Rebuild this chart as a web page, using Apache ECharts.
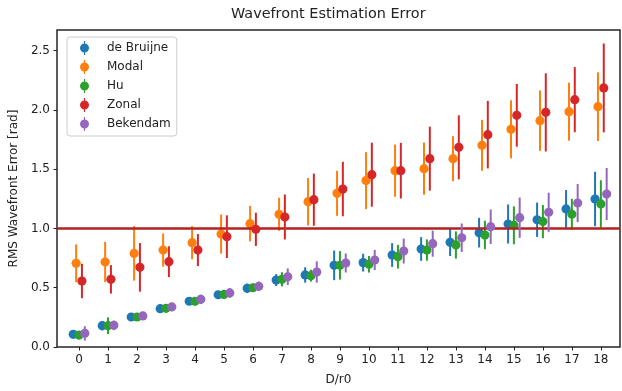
<!DOCTYPE html>
<html>
<head>
<meta charset="utf-8">
<script src="https://cdn.jsdelivr.net/npm/echarts@6/dist/echarts.min.js"></script>
<style>
  html, body { margin: 0; padding: 0; background: #fff; }
  #chart { width: 622px; height: 391px; }
</style>
</head>
<body>
<div id="chart"></div>
<script>
// D/r0 values on the x axis
const dValues = [0, 1, 2, 3, 4, 5, 6, 7, 8, 9, 10, 11, 12, 13, 14, 15, 16, 17, 18];
const threshold = 1.0;

// RMS error means and error bar half-widths [rad]
const deBruijne    = [0.107, 0.18, 0.253, 0.323, 0.386, 0.441, 0.495, 0.565, 0.608, 0.689, 0.712, 0.776, 0.827, 0.883, 0.965, 1.038, 1.074, 1.165, 1.249];
const deBruijneErr = [0.02, 0.04, 0.02, 0.03, 0.03, 0.03, 0.04, 0.05, 0.065, 0.125, 0.075, 0.1, 0.1, 0.115, 0.125, 0.165, 0.145, 0.16, 0.23];
const modal        = [0.706, 0.717, 0.79, 0.818, 0.88, 0.953, 1.041, 1.12, 1.226, 1.297, 1.404, 1.488, 1.505, 1.589, 1.702, 1.837, 1.91, 1.986, 2.028];
const modalErr     = [0.16, 0.17, 0.23, 0.14, 0.14, 0.165, 0.15, 0.14, 0.2, 0.19, 0.24, 0.22, 0.22, 0.19, 0.215, 0.245, 0.255, 0.245, 0.29];
const hu           = [0.101, 0.18, 0.253, 0.326, 0.386, 0.444, 0.5, 0.571, 0.602, 0.689, 0.698, 0.762, 0.818, 0.861, 0.945, 1.027, 1.058, 1.12, 1.207];
const huErr        = [0.02, 0.07, 0.015, 0.03, 0.035, 0.03, 0.035, 0.06, 0.05, 0.12, 0.07, 0.1, 0.09, 0.115, 0.12, 0.16, 0.14, 0.13, 0.2];
const zonal        = [0.557, 0.571, 0.672, 0.72, 0.818, 0.931, 0.993, 1.097, 1.243, 1.333, 1.454, 1.488, 1.589, 1.685, 1.792, 1.955, 1.98, 2.087, 2.186];
const zonalErr     = [0.145, 0.12, 0.205, 0.13, 0.135, 0.18, 0.14, 0.19, 0.22, 0.23, 0.27, 0.235, 0.27, 0.27, 0.285, 0.265, 0.33, 0.275, 0.375];
const bekendam     = [0.115, 0.183, 0.262, 0.338, 0.402, 0.456, 0.512, 0.593, 0.633, 0.709, 0.734, 0.81, 0.872, 0.922, 1.015, 1.091, 1.137, 1.215, 1.291];
const bekendamErr  = [0.06, 0.04, 0.02, 0.025, 0.04, 0.04, 0.04, 0.07, 0.09, 0.08, 0.085, 0.105, 0.11, 0.12, 0.145, 0.17, 0.165, 0.16, 0.22];

const groups = [
  { name: 'de Bruijne', values: deBruijne, errors: deBruijneErr, color: '#1f77b4', offset: -0.2 },
  { name: 'Modal', values: modal, errors: modalErr, color: '#ff7f0e', offset: -0.1 },
  { name: 'Hu', values: hu, errors: huErr, color: '#2ca02c', offset: 0 },
  { name: 'Zonal', values: zonal, errors: zonalErr, color: '#d62728', offset: 0.1 },
  { name: 'Bekendam', values: bekendam, errors: bekendamErr, color: '#9467bd', offset: 0.2 },
];

const font = 'DejaVu Sans';
const ink = '#222';
// errorbar glyph: vertical line through a dot
const legendIcon = 'path://M4.4,0H5.6V14H4.4Z M0.5,7A4.5,4.5 0 1 1 9.5,7A4.5,4.5 0 1 1 0.5,7Z';

function errorBarItem(color) {
  return function (params, api) {
    const x = api.value(0);
    const y = api.value(1);
    const e = api.value(2);
    const top = api.coord([x, y + e]);
    const bot = api.coord([x, y - e]);
    const c = api.coord([x, y]);
    return {
      type: 'group',
      children: [
        { type: 'line', shape: { x1: top[0], y1: top[1], x2: bot[0], y2: bot[1] }, style: { stroke: color, lineWidth: 2 } },
        { type: 'circle', shape: { cx: c[0], cy: c[1], r: 4.6 }, style: { fill: color } },
      ],
    };
  };
}

const series = groups.map((g, i) => {
  const s = {
    name: g.name,
    type: 'custom',
    z: 2 + i,
    itemStyle: { color: g.color },
    renderItem: errorBarItem(g.color),
    encode: { x: 0, y: 1 },
    data: dValues.map((d, k) => [d + g.offset, g.values[k], g.errors[k]]),
  };
  if (i === groups.length - 1) {
    s.markLine = {
      silent: true,
      symbol: ['none', 'none'],
      label: { show: false },
      lineStyle: { color: '#b22222', width: 2.5, type: 'solid' },
      data: [{ yAxis: threshold }],
    };
  }
  return s;
});

const option = {
  animation: false,
  color: groups.map(g => g.color),
  title: {
    text: 'Wavefront Estimation Error',
    left: 231,
    top: 7,
    padding: 0,
    textStyle: { fontFamily: font, fontSize: 14.4, fontWeight: 'normal', color: ink },
  },
  legend: {
    orient: 'vertical',
    left: 67,
    top: 37,
    padding: [4, 6, 5, 13],
    itemWidth: 9,
    itemHeight: 14,
    itemGap: 5,
    borderColor: '#cccccc',
    borderWidth: 1,
    borderRadius: 3,
    backgroundColor: 'rgba(255,255,255,0.8)',
    data: groups.map(g => ({ name: g.name, icon: legendIcon })),
    formatter: name => '{t|' + name + '}',
    textStyle: {
      fontFamily: font,
      fontSize: 12,
      color: ink,
      rich: { t: { fontFamily: font, fontSize: 12, color: ink, padding: [0, 0, 0, 13] } },
    },
  },
  grid: {
    left: 57,
    right: 2,
    top: 30,
    bottom: 44,
    show: true,
    borderColor: '#262626',
    borderWidth: 1.5,
    backgroundColor: 'transparent',
  },
  xAxis: {
    type: 'value',
    min: -0.76,
    max: 18.66,
    name: 'D/r0',
    nameLocation: 'middle',
    nameGap: 27,
    nameTextStyle: { fontFamily: font, fontSize: 12, color: ink },
    axisLine: { show: false, onZero: false },
    splitLine: { show: false },
    axisTick: { show: true, length: 3.5, lineStyle: { color: ink, width: 1 }, customValues: dValues },
    axisLabel: { fontFamily: font, fontSize: 12, color: ink, margin: 7, customValues: dValues },
  },
  yAxis: {
    type: 'value',
    min: 0,
    max: 2.675,
    interval: 0.5,
    name: 'RMS Wavefront Error [rad]',
    nameLocation: 'middle',
    nameGap: 33,
    nameTextStyle: { fontFamily: font, fontSize: 12, color: ink },
    axisLine: { show: false, onZero: false },
    splitLine: { show: false },
    axisTick: { show: true, length: 3.5, lineStyle: { color: ink, width: 1 } },
    axisLabel: { fontFamily: font, fontSize: 12, color: ink, margin: 7, showMaxLabel: false, formatter: v => v.toFixed(1) },
  },
  series: series,
};

const chart = echarts.init(document.getElementById('chart'), null, { renderer: 'canvas' });
chart.setOption(option);
</script>
</body>
</html>
